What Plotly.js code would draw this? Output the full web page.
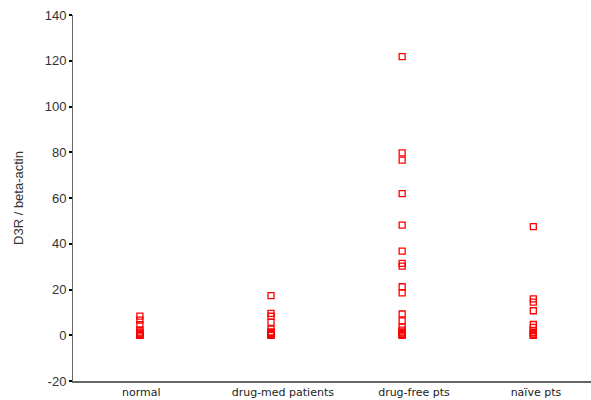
<!DOCTYPE html>
<html>
<head>
<meta charset="utf-8">
<script src="https://cdn.plot.ly/plotly-3.0.1.min.js"></script>
<style>html,body{margin:0;padding:0;background:#fff;}#chart{width:591px;height:400px;}</style>
</head>
<body>
<div id="chart"></div>
<script>
const categories = ["normal", "drug-med patients", "drug-free pts", "naïve pts"];
const normalVals = [8.4, 6.6, 4.6, 2.3, 1.4, 0.9, 0.6, 0.3, 0.1, 0];
const drugMedVals = [17.3, 9.6, 8.3, 5.6, 2.7, 1.5, 1.1, 0.7, 0.4, 0.2, 0];
const drugFreeVals = [121.8, 79.7, 76.6, 61.9, 48.1, 36.8, 31.4, 30.2, 21.2, 18.5, 9.3, 6.3, 3.6, 2.2, 1.5, 1.0, 0.6, 0.3, 0];
const naiveVals = [47.5, 15.9, 14.5, 10.7, 4.7, 3.4, 2.0, 1.2, 0.6, 0.2, 0];
const yTicks = [-20, 0, 20, 40, 60, 80, 100, 120, 140];

const groups = [normalVals, drugMedVals, drugFreeVals, naiveVals];
const xs = [], ys = [];
groups.forEach((g, i) => g.forEach(v => { xs.push(i); ys.push(v); }));

const trace = {
  x: xs, y: ys, type: 'scatter', mode: 'markers',
  marker: {symbol: 'square-open', size: 6, color: '#ff0000', line: {width: 1.3, color: '#ff0000'}},
  hoverinfo: 'none', showlegend: false
};

const layout = {
  width: 591, height: 400,
  margin: {l: 73, r: 0, t: 15, b: 19, pad: 0},
  paper_bgcolor: '#ffffff', plot_bgcolor: '#ffffff',
  font: {family: 'Liberation Sans, Arial, sans-serif', size: 12, color: '#333333'},
  xaxis: {
    range: [-0.51, 3.44], showgrid: false, zeroline: false,
    showline: true, linecolor: '#666666', linewidth: 2,
    tickmode: 'array', tickvals: [0.01, 1.09, 2.09, 3.02], ticktext: categories,
    ticks: '', tickfont: {family: 'DejaVu Sans, Verdana, sans-serif', size: 11, color: '#222222'}, fixedrange: true
  },
  yaxis: {
    range: [-20, 140], showgrid: false, zeroline: false,
    showline: true, linecolor: '#666666', linewidth: 1,
    tickmode: 'array', tickvals: yTicks, ticktext: yTicks.map(String),
    ticks: 'outside', ticklen: 3, tickwidth: 2, tickcolor: '#000000',
    tickfont: {size: 13, color: '#333333'},
    title: {text: 'D3R / beta-actin', font: {size: 13, color: '#333333'}, standoff: 18},
    fixedrange: true
  }
};

Plotly.newPlot('chart', [trace], layout, {displayModeBar: false, staticPlot: true});
</script>
</body>
</html>
